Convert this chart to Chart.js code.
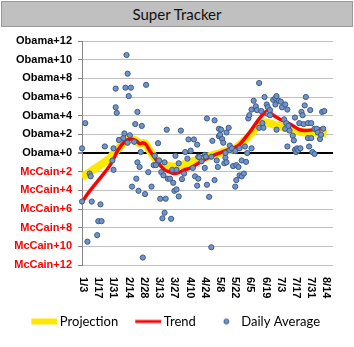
<!DOCTYPE html>
<html>
<head>
<meta charset="utf-8">
<script src="https://cdn.jsdelivr.net/npm/chart.js@4.4.1/dist/chart.umd.min.js"></script>
<style>
  html, body { margin: 0; padding: 0; background: #fff; }
  #wrap { width: 354px; height: 347px; position: relative; }
  #title {
    position: absolute; left: 1px; top: 1px; width: 350px; height: 24px;
    background: #c0c0c0; border: 1px solid #9a9a9a;
    font: 15px Lato, sans-serif; color: #111; text-align: center; line-height: 24px;
  }
  #box { position: absolute; left: 0; top: 27px; width: 354px; height: 320px; }
</style>
</head>
<body>
<div id="wrap">
  <div id="title">Super Tracker</div>
  <div id="box"><canvas id="chart"></canvas></div>
</div>
<script>
// x values are days counted from Jan 3 (1/3 = day 0)
const tickDays = [0, 14, 28, 42, 56, 70, 84, 98, 112, 126, 140, 154, 168, 182, 196, 210, 224]
const tickLabels = ['1/3','1/17','1/31','2/14','2/28','3/13','3/27','4/10','4/24','5/8','5/22','6/5','6/19','7/3','7/17','7/31','8/14']

const yTickValues = [-12, -10, -8, -6, -4, -2, 0, 2, 4, 6, 8, 10, 12]
const yTickLabels = ['McCain+12','McCain+10','McCain+8','McCain+6','McCain+4','McCain+2',
                     'Obama+0','Obama+2','Obama+4','Obama+6','Obama+8','Obama+10','Obama+12']

const trendDays = [-1, 4, 10, 17, 23, 27, 32, 38, 44, 49, 52, 55, 58, 61, 66, 70, 75, 80, 84, 89, 93, 99,
                   106, 112, 121, 130, 140, 144, 149, 155, 161, 166, 170, 175, 180, 186, 192, 199, 204, 213, 222]
const trendValues = [-5.3, -4.4, -3.5, -2.5, -1.6, -0.9, 0.3, 1.2, 1.5, 1.3, 1.0, 1.1, 0.9, 0.3, -0.5, -1.2, -1.8, -2.05, -2.2, -2.05, -1.8, -1.6,
                     -1.1, -0.7, -0.2, 0.2, 0.6, 0.9, 1.6, 2.5, 3.5, 4.2, 4.5, 4.05, 3.7, 3.35, 3.0, 2.5, 2.4, 2.5, 2.65]

const projDays = [-1, 8, 17, 25, 29, 32, 38, 44, 49, 52, 55, 58, 61, 66, 70, 75, 80, 85, 90, 95, 103, 112, 120, 130,
                  140, 145, 150, 155, 160, 165, 168, 174, 180, 186, 192, 199, 205, 213, 219, 224]
const projValues = [-2.6, -1.9, -1.2, -0.5, 0.1, 0.4, 1.2, 1.5, 1.3, 1.0, 1.1, 0.9, 0.3, -0.5, -1.0, -1.3, -1.4, -1.45, -1.3, -1.1, -0.8, -0.5, -0.2, 0.15,
                    0.5, 0.95, 1.5, 2.1, 2.8, 3.2, 3.3, 3.1, 2.9, 2.7, 2.5, 2.3, 2.2, 2.2, 2.15, 2.05]

const dailyDays = [-1, -1, 2, 4, 6, 7, 8, 13, 14, 16, 17, 20, 27, 28, 28, 30, 30, 31, 33, 37, 38, 39, 40, 41, 41, 42, 43, 44, 45, 47,
  48, 49, 50, 50, 51, 52, 53, 54, 55, 57, 58, 60, 63, 65, 66, 67, 69, 70, 71, 72, 73, 74, 75, 75, 76, 77, 78, 80, 81, 82,
  83, 84, 85, 86, 86, 88, 88, 90, 91, 93, 94, 96, 97, 99, 101, 102, 103, 105, 105, 106, 106, 107, 109, 112, 112, 113, 114, 114, 116, 118,
  118, 119, 121, 121, 123, 124, 125, 125, 126, 127, 128, 129, 130, 131, 131, 132, 132, 134, 135, 135, 137, 138, 140, 140, 141, 141, 143, 144, 144, 146,
  146, 148, 149, 150, 151, 152, 153, 155, 155, 157, 159, 160, 162, 162, 164, 165, 166, 167, 169, 170, 170, 172, 172, 175, 177, 177, 178, 178, 180, 182,
  183, 185, 186, 186, 187, 188, 188, 189, 190, 193, 194, 195, 195, 196, 197, 198, 199, 200, 201, 202, 203, 204, 205, 207, 207, 208, 209, 210, 210, 211,
  213, 213, 215, 216, 218, 219, 220, 221, 222]
const dailyValues = [0.5, -5.2, 3.2, -9.5, -2.2, -2.5, -5.2, -8.8, -7.3, -5.5, -7.3, 0.7, -0.8, -1.8, 0.5, 4.9, 6.9, 4.3, 1.4, 1.6, 2.1, 7.0, 10.5, 8.5, 1.1, 6.1, 1.9, 7.0, -3.6, 1.2,
  3.1, -2.75, 4.4, -1.0, -4.05, -1.5, 0.1, 2.9, -11.2, -4.4, 7.3, -2.05, -3.6, -1.3, -0.3, -1.3, 1.05, -0.8, -4.9, -2.05, -7.0, -2.4, -6.4, -1.0, -4.9, 2.5, -2.75, -2.75, -7.05, -1.8,
  -3.2, -4.05, -0.3, -1.8, -3.9, -1.1, -4.65, 2.4, -2.8, -2.2, 0.1, -0.6, 1.45, 0.25, -1.6, 1.45, -2.5, -3.5, 0.9, -0.4, -2.75, -0.45, -0.9, -1.6, -0.2, -0.4, -3.4, 3.7, -4.7, -10.1,
  -0.4, 1.3, 3.5, -2.9, -0.8, -1.5, 2.6, 1.8, 1.95, 2.5, 1.5, 1.1, -1.1, -0.5, 0.0, -1.0, 2.2, 2.7, 0.8, 0.3, 0.5, -1.4, 0.2, -3.6, -1.3, -2.9, -1.5, 0.5, -2.4, -2.5,
  -0.8, -2.2, 0.7, -0.95, 0.0, 3.7, 4.05, 4.65, 0.5, 5.6, 5.0, 4.6, 7.5, 2.7, 4.5, 3.2, 2.7, 6.0, 5.2, 4.9, 4.2, 4.6, 4.05, 5.7, 5.9, 5.2, 6.1, 2.5, 5.6, 5.5,
  4.9, 3.6, 2.6, 5.2, 3.2, 4.65, 0.7, 2.9, 2.4, 1.85, 1.35, 3.8, 0.35, 0.1, 0.5, 0.3, 3.2, 0.5, 4.4, 4.05, 3.1, 5.1, 6.0, 3.2, 1.6, 0.7, 4.6, 1.6, 3.2, 0.1,
  -0.1, 2.6, 2.6, 2.2, 1.5, 1.95, 4.4, 2.6, 4.5]

const toPoints = (xs, ys) => xs.map((x, i) => ({x: x, y: ys[i]}))

// legend marks: drawn a bit right of the box centre so the gap to the text stays small
function marker(draw) {
    const c = document.createElement('canvas')
    c.width = 34
    c.height = 8
    draw(c.getContext('2d'))
    return c
}
const legendMarks = [
    marker(g => { g.fillStyle = '#ffe800'; g.fillRect(8, 1, 26, 6) }),
    marker(g => { g.fillStyle = '#ff0000'; g.fillRect(8, 2.5, 26, 3) }),
    marker(g => {
        g.beginPath(); g.arc(21.5, 4, 2.5, 0, Math.PI * 2)
        g.fillStyle = '#7393c4'; g.fill()
        g.strokeStyle = '#3b5c8f'; g.lineWidth = 1; g.stroke()
    })
]

// x labels read top to bottom, so they are drawn here instead of by the scale
const xLabelPlugin = {
    id: 'xLabels',
    afterDraw(chart) {
        const ctx = chart.ctx
        const xs = chart.scales.x
        ctx.save()
        ctx.fillStyle = '#000'
        ctx.font = 'bold 11px "Liberation Sans", Arial, sans-serif'
        ctx.textAlign = 'left'
        ctx.textBaseline = 'middle'
        tickDays.forEach((d, i) => {
            ctx.save()
            ctx.translate(xs.getPixelForValue(d), chart.chartArea.bottom + 12)
            ctx.rotate(Math.PI / 2)
            ctx.fillText(tickLabels[i], 0, 0)
            ctx.restore()
        })
        ctx.restore()
    }
}

const ctx = document.getElementById('chart')
new Chart(ctx, {
    data: {
        datasets: [{
            type: 'line',
            label: 'Projection',
            data: toPoints(projDays, projValues),
            borderColor: '#ffe800',
            borderWidth: 8,
            pointRadius: 0,
            tension: 0.3,
            order: 3
        }, {
            type: 'line',
            label: 'Trend',
            data: toPoints(trendDays, trendValues),
            borderColor: '#ff0000',
            borderWidth: 3.5,
            pointRadius: 0,
            tension: 0.3,
            order: 2
        }, {
            type: 'scatter',
            label: 'Daily Average',
            data: toPoints(dailyDays, dailyValues),
            backgroundColor: '#7393c4',
            borderColor: '#3b5c8f',
            borderWidth: 1,
            pointRadius: 2.6,
            clip: false,
            order: 1
        }]
    },
    options: {
        responsive: true,
        maintainAspectRatio: false,
        animation: false,
        layout: { padding: { left: 0, top: 14, right: 21, bottom: 9 } },
        scales: {
            x: {
                type: 'linear',
                min: -1,
                max: 230,
                afterBuildTicks: s => { s.ticks = tickDays.map(v => ({ value: v })) },
                afterFit: s => { s.height = 37 },
                ticks: { display: false },
                grid: { display: false },
                border: { display: false }
            },
            y: {
                min: -12,
                max: 12,
                afterBuildTicks: s => { s.ticks = yTickValues.map(v => ({ value: v })) },
                afterFit: s => { s.width = 82 },
                ticks: {
                    callback: (v, i) => yTickLabels[i],
                    color: c => c.tick.value < 0 ? '#ff0000' : '#000000',
                    font: { family: '"Liberation Sans", Arial, sans-serif', size: 11, weight: 'bold' },
                    padding: 6
                },
                grid: {
                    color: c => c.tick.value === 0 ? '#000000' : '#c0c0c0',
                    lineWidth: c => c.tick.value === 0 ? 2 : 1,
                    tickColor: '#868686',
                    tickLength: 4
                },
                border: { color: '#868686' }
            }
        },
        plugins: {
            legend: {
                position: 'bottom',
                align: 'end',
                labels: {
                    usePointStyle: true,
                    pointStyleWidth: 26,
                    padding: 13,
                    color: '#000',
                    font: { family: 'Lato, sans-serif', size: 13 },
                    sort: (a, b) => a.datasetIndex - b.datasetIndex,
                    generateLabels(chart) {
                        const items = Chart.defaults.plugins.legend.labels.generateLabels(chart)
                        items.forEach(it => { it.pointStyle = legendMarks[it.datasetIndex] })
                        return items
                    }
                }
            },
            tooltip: { enabled: false }
        }
    },
    plugins: [xLabelPlugin]
})
</script>
</body>
</html>
